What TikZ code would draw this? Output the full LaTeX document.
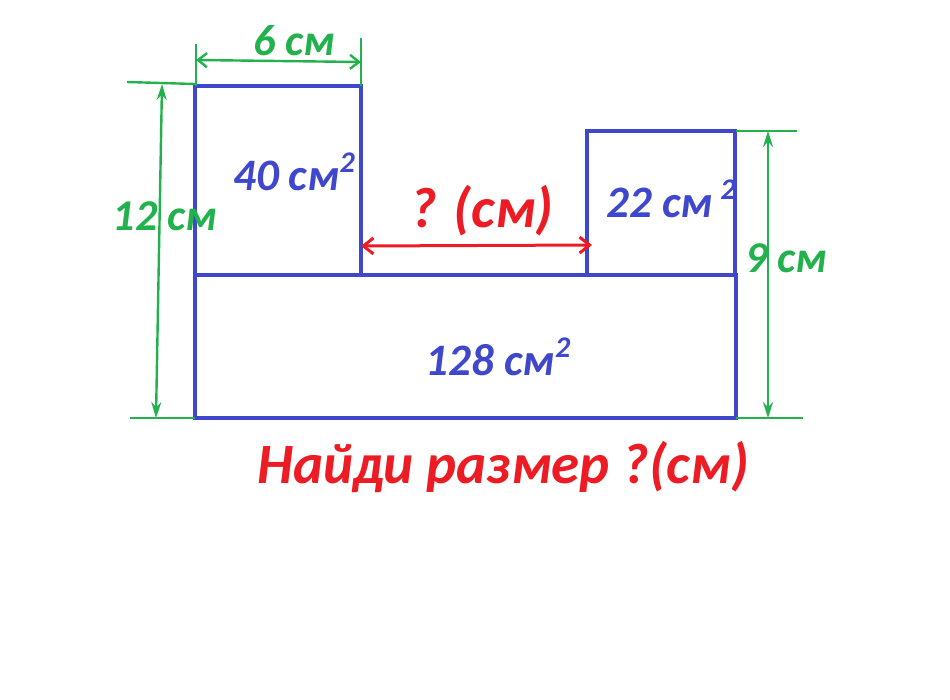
\documentclass[tikz,border=0pt]{standalone}
\usepackage{fontspec}
\setmainfont{Carlito}
\usepackage{tikz}
\usetikzlibrary{arrows.meta}
\definecolor{figblue}{RGB}{63,72,204}
\definecolor{dimgreen}{RGB}{34,177,76}
\definecolor{askred}{RGB}{237,28,36}
\newcommand{\sqtwo}{\raisebox{0.4em}{\fontsize{30}{30}\selectfont 2}}

\begin{document}
\begin{tikzpicture}[x=1pt, y=-1pt, >=latex,
    wall/.style={draw=figblue, line width=4pt},
    extline/.style={draw=dimgreen, line width=2.4pt},
    dimline/.style={draw=dimgreen, line width=2.4pt, {Stealth[length=16pt,width=10pt]}-{Stealth[length=16pt,width=10pt]}},
    dimbarb/.style={draw=dimgreen, line width=2.4pt, {Straight Barb[length=9pt,width=14pt]}-{Straight Barb[length=9pt,width=14pt]}},
    askline/.style={draw=askred, line width=3pt, {Straight Barb[length=10pt,width=16pt]}-{Straight Barb[length=10pt,width=16pt]}},
    area/.style={text=figblue, font=\fontsize{45}{45}\selectfont\bfseries\itshape, inner sep=0pt, anchor=base},
    dimtext/.style={text=dimgreen, font=\fontsize{44}{44}\selectfont\bfseries\itshape, inner sep=0pt, anchor=base},
    asktext/.style={text=askred, font=\fontsize{57}{57}\selectfont\bfseries\itshape, inner sep=0pt, anchor=base}]
    \useasboundingbox (0,0) rectangle (950,699);

    % blocks
    \draw[wall] (195,86) rectangle (361,275);
    \draw[wall] (587,131) rectangle (735,275);
    \draw[wall] (195,275) rectangle (736,418);

    % ends of the measures
    \coordinate (wl) at (196,60);
    \coordinate (wr) at (361,62);
    \coordinate (hlt) at (162,84);
    \coordinate (hlb) at (156,418);
    \coordinate (hrt) at (768,131);
    \coordinate (hrb) at (768,418);
    \coordinate (gl) at (361,246);
    \coordinate (gr) at (592,245);

    % extension lines
    \draw[extline] (196,44) -- (196,86);
    \draw[extline] (361,38) -- (361,86);
    \draw[extline] (127,82) -- (195,84);
    \draw[extline] (130,418) -- (195,418);
    \draw[extline] (736,131) -- (797,131);
    \draw[extline] (736,418) -- (803,418);

    % measures
    \draw[dimbarb] (wl) -- (wr);
    \draw[dimline] (hlt) -- (hlb);
    \draw[dimline] (hrt) -- (hrb);
    \draw[askline] (gl) -- (gr);

    \node[dimtext] (six) at (294,55) {6 см};
    \node[dimtext] (twelve) at (165,230) {12 см};
    \node[dimtext] (nine) at (786,272) {9 см};

    \node[area] (left) at (294,190) {40 см\sqtwo};
    \node[area] (right) at (671,217) {22 см\,\sqtwo};
    \node[area] (bottom) at (498,375) {128 см\sqtwo};

    \node[asktext] (gap) at (482,227) {? (см)};
    \node[asktext] (task) at (503,483) {Найди размер ?(см)};

\end{tikzpicture}
\end{document}
